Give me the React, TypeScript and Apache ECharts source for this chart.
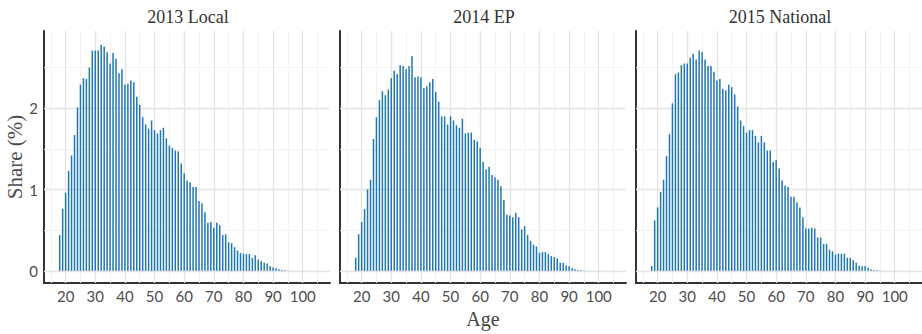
import React, { useEffect, useRef } from 'react';
import * as echarts from 'echarts';

const ages = [
  18, 19, 20, 21, 22, 23, 24, 25, 26, 27,
  28, 29, 30, 31, 32, 33, 34, 35, 36, 37,
  38, 39, 40, 41, 42, 43, 44, 45, 46, 47,
  48, 49, 50, 51, 52, 53, 54, 55, 56, 57,
  58, 59, 60, 61, 62, 63, 64, 65, 66, 67,
  68, 69, 70, 71, 72, 73, 74, 75, 76, 77,
  78, 79, 80, 81, 82, 83, 84, 85, 86, 87,
  88, 89, 90, 91, 92, 93, 94, 95, 96, 97,
  98, 99, 100, 101, 102, 103, 104,
];

const local2013 = [
  0.44, 0.76, 0.96, 1.23, 1.42, 1.67, 2.01, 2.29, 2.37, 2.36,
  2.5, 2.71, 2.71, 2.71, 2.78, 2.76, 2.69, 2.55, 2.68, 2.61,
  2.43, 2.48, 2.29, 2.3, 2.34, 2.32, 2.14, 2.04, 1.89, 1.8,
  1.75, 1.85, 1.73, 1.69, 1.73, 1.76, 1.63, 1.54, 1.51, 1.48,
  1.47, 1.32, 1.2, 1.11, 1.09, 1.03, 1.03, 0.86, 0.83, 0.72,
  0.59, 0.6, 0.53, 0.59, 0.56, 0.44, 0.45, 0.35, 0.34, 0.29,
  0.25, 0.22, 0.21, 0.205, 0.205, 0.16, 0.19, 0.14, 0.12, 0.1,
  0.09, 0.06, 0.04, 0.03, 0.02, 0.01, 0.006, 0.004, 0.003, 0.002,
  0.002, 0.001, 0.001, 0.001, 0.001, 0.0005, 0.0005,
];

const ep2014 = [
  0.16, 0.45, 0.6, 0.76, 1.0, 1.12, 1.62, 1.89, 2.1, 2.21,
  2.16, 2.23, 2.37, 2.46, 2.42, 2.53, 2.52, 2.48, 2.52, 2.64,
  2.38, 2.39, 2.38, 2.25, 2.27, 2.32, 2.36, 2.2, 2.08, 1.9,
  1.9, 1.8, 1.9, 1.85, 1.79, 1.76, 1.87, 1.69, 1.7, 1.7,
  1.61, 1.59, 1.51, 1.34, 1.25, 1.28, 1.18, 1.15, 1.12, 1.04,
  0.87, 0.69, 0.68, 0.66, 0.71, 0.66, 0.51, 0.55, 0.44, 0.37,
  0.32, 0.3, 0.22, 0.23, 0.23, 0.205, 0.18, 0.17, 0.15, 0.1,
  0.1, 0.066, 0.057, 0.03, 0.02, 0.01, 0.006, 0.004, 0.003, 0.002,
  0.002, 0.001, 0.001, 0.001, 0.0008, 0.0005, 0.0005,
];

const national2015 = [
  0.06, 0.62, 0.78, 0.97, 1.12, 1.41, 1.68, 2.06, 2.42, 2.44,
  2.53, 2.55, 2.55, 2.62, 2.67, 2.6, 2.71, 2.69, 2.6, 2.52,
  2.52, 2.45, 2.34, 2.36, 2.24, 2.22, 2.29, 2.26, 2.17, 2.02,
  1.85, 1.78, 1.7, 1.73, 1.73, 1.66, 1.58, 1.66, 1.58, 1.48,
  1.48, 1.34, 1.36, 1.26, 1.11, 1.05, 1.03, 0.91, 0.91, 0.84,
  0.78, 0.66, 0.52, 0.52, 0.53, 0.52, 0.41, 0.41, 0.33, 0.33,
  0.26, 0.24, 0.2, 0.21, 0.21, 0.21, 0.16, 0.16, 0.13, 0.1,
  0.066, 0.057, 0.057, 0.037, 0.02, 0.01, 0.006, 0.004, 0.003, 0.002,
  0.002, 0.001, 0.001, 0.001, 0.0008, 0.0005, 0.0005,
];

const panelTitles = ['2013 Local', '2014 EP', '2015 National'];
const xTickValues = [20, 30, 40, 50, 60, 70, 80, 90, 100];
const yTickValues = [0, 1, 2];
const xMajorGrid = [20, 30, 40, 50, 60, 70, 80, 90, 100];
const xMinorGrid = [15, 25, 35, 45, 55, 65, 75, 85, 95, 105];
const yMajorGrid = [0, 1, 2];
const yMinorGrid = [0.5, 1.5, 2.5];

export default function App() {
  const ref = useRef<HTMLDivElement>(null);

  useEffect(() => {
    document.body.style.margin = '0';
    const chart = echarts.init(ref.current!, undefined, { renderer: 'svg', width: 922, height: 334 });
    const seriesValues = [local2013, ep2014, national2015];
    const lefts = [44, 340, 636];
    const gridW = 286;
    const gridTop = 31;
    const gridH = 252;
    const tickFont = 'Lato, "Open Sans", sans-serif';
    const serif = '"Liberation Serif", "DejaVu Serif", serif';

    const gridLines = [
      ...xMinorGrid.map((v) => ({ xAxis: v, lineStyle: { color: '#f2f2f2', width: 1, type: 'solid' } })),
      ...yMinorGrid.map((v) => ({ yAxis: v, lineStyle: { color: '#f2f2f2', width: 1, type: 'solid' } })),
      ...xMajorGrid.map((v) => ({ xAxis: v, lineStyle: { color: '#e4e4e4', width: 1.3, type: 'solid' } })),
      ...yMajorGrid.map((v) => ({ yAxis: v, lineStyle: { color: '#e4e4e4', width: 1.3, type: 'solid' } })),
    ];

    const option: any = {
      animation: false,
      backgroundColor: '#ffffff',
      grid: lefts.map((l) => ({
        left: l,
        top: gridTop,
        width: gridW,
        height: gridH,
        containLabel: false,
        outerBoundsMode: 'none',
      })),
      xAxis: lefts.map((_, i) => ({
        type: 'value',
        gridIndex: i,
        min: 12.7,
        max: 109.2,
        axisLine: { show: true, onZero: false, lineStyle: { color: '#333333', width: 2 } },
        axisTick: { show: false },
        splitLine: { show: false },
        minorSplitLine: { show: false },
        axisLabel: {
          show: true,
          customValues: xTickValues,
          color: '#4d4d4d',
          fontSize: 15,
          fontFamily: tickFont,
          margin: 5,
        },
      })),
      yAxis: lefts.map((_, i) => ({
        type: 'value',
        gridIndex: i,
        min: -0.15,
        max: 2.95,
        axisLine: { show: true, onZero: false, lineStyle: { color: '#333333', width: 2 } },
        axisTick: { show: false },
        splitLine: { show: false },
        minorSplitLine: { show: false },
        axisLabel: {
          show: i === 0,
          customValues: yTickValues,
          color: '#4d4d4d',
          fontSize: 15,
          fontFamily: tickFont,
          margin: 6,
        },
      })),
      series: seriesValues.map((vals, i) => ({
        type: 'bar',
        xAxisIndex: i,
        yAxisIndex: i,
        data: ages.map((a, j) => [a, vals[j]]),
        barWidth: 1.5,
        itemStyle: { color: '#1f77b4' },
        z: 10,
        silent: true,
        markLine: {
          silent: true,
          z: 1,
          symbol: ['none', 'none'],
          label: { show: false },
          animation: false,
          data: gridLines,
        },
      })),
      graphic: [
        ...panelTitles.map((t, i) => ({
          type: 'text',
          x: lefts[i] + gridW / 2 + 1,
          y: 17,
          style: {
            text: t,
            fontSize: 18,
            fontFamily: serif,
            fill: '#333333',
            align: 'center',
            verticalAlign: 'middle',
          },
        })),
        {
          type: 'text',
          x: 483,
          y: 319,
          style: {
            text: 'Age',
            fontSize: 20,
            fontFamily: serif,
            fill: '#444444',
            align: 'center',
            verticalAlign: 'middle',
          },
        },
        {
          type: 'text',
          x: 15,
          y: 157,
          rotation: Math.PI / 2,
          style: {
            text: 'Share (%)',
            fontSize: 21,
            fontFamily: serif,
            fill: '#4d4d4d',
            align: 'center',
            verticalAlign: 'middle',
          },
        },
      ],
    };

    chart.setOption(option);
    return () => chart.dispose();
  }, []);

  return (
    <div
      ref={ref}
      style={{ position: 'absolute', left: 0, top: 0, width: 922, height: 334 }}
    />
  );
}
